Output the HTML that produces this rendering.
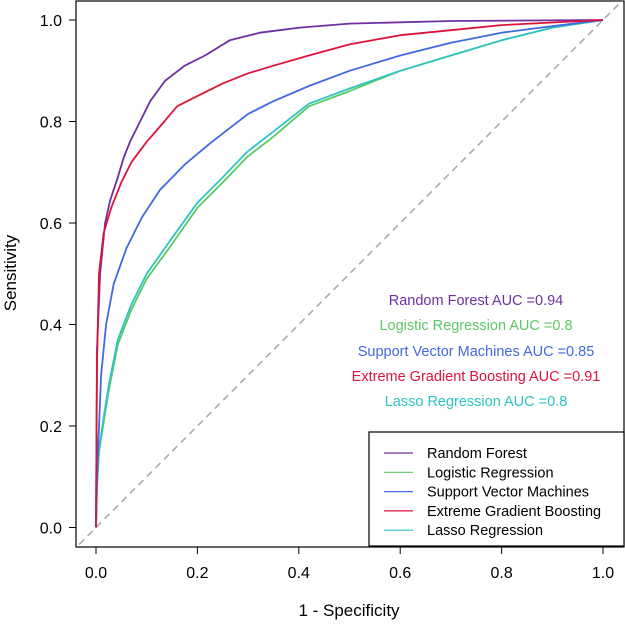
<!DOCTYPE html>
<html><head><meta charset="utf-8"><style>body{margin:0;background:#fff}svg{display:block;font-family:"Liberation Sans",Arial,sans-serif}</style></head>
<body>
<svg id="chart" width="625" height="625">
<defs><clipPath id="clip"><rect x="76" y="1" width="548" height="546"/></clipPath></defs>
<rect x="76" y="1" width="548" height="546" fill="none" stroke="#000" stroke-width="1.2"/>
<g id="axes"></g>
<g id="series" clip-path="url(#clip)"></g>
<g id="labels"></g>
<text x="349" y="616" font-size="17" text-anchor="middle">1 - Specificity</text>
<text x="0" y="0" font-size="17" text-anchor="middle" transform="translate(16,273) rotate(-90)">Sensitivity</text>
<g>
<rect x="369" y="432" width="255" height="114" fill="#fff" stroke="#000" stroke-width="1.2"/>
<g id="legend"></g>
</g>
</svg>
<script>
const seriesNames=["Random Forest","Logistic Regression","Support Vector Machines","Extreme Gradient Boosting","Lasso Regression"];
const seriesColors=["#7030A0","#5DC863","#4169E1","#DC143C","#2EC4C4"];
const aucValues=["0.94","0.8","0.85","0.91","0.8"];
const ticks=[0,0.2,0.4,0.6,0.8,1.0];
const rfFpr=[0,0.002,0.008,0.018,0.028,0.043,0.055,0.067,0.087,0.107,0.136,0.175,0.215,0.264,0.323,0.402,0.5,0.7,1];
const rfTpr=[0,0.35,0.5,0.6,0.645,0.69,0.73,0.76,0.8,0.84,0.88,0.91,0.93,0.96,0.975,0.985,0.993,0.998,1];
const lrFpr=[0,0.002,0.006,0.014,0.025,0.043,0.07,0.1,0.146,0.2,0.25,0.298,0.35,0.42,0.5,0.6,0.7,0.8,0.9,1];
const lrTpr=[0,0.08,0.15,0.2,0.27,0.36,0.43,0.49,0.553,0.63,0.68,0.73,0.77,0.83,0.86,0.9,0.93,0.96,0.985,1];
const svmFpr=[0,0.002,0.01,0.02,0.035,0.06,0.09,0.126,0.175,0.225,0.3,0.35,0.42,0.5,0.6,0.7,0.8,0.9,1];
const svmTpr=[0,0.1,0.3,0.4,0.48,0.55,0.61,0.665,0.715,0.757,0.815,0.84,0.87,0.9,0.93,0.955,0.975,0.988,1];
const xgbFpr=[0,0.002,0.006,0.015,0.03,0.05,0.07,0.1,0.126,0.16,0.2,0.25,0.3,0.35,0.42,0.5,0.6,0.7,0.8,0.9,1];
const xgbTpr=[0,0.33,0.5,0.58,0.63,0.68,0.72,0.76,0.79,0.83,0.85,0.875,0.895,0.91,0.93,0.952,0.97,0.98,0.99,0.995,1];
const lasFpr=[0,0.002,0.006,0.014,0.025,0.043,0.07,0.1,0.146,0.2,0.25,0.298,0.35,0.42,0.5,0.6,0.7,0.8,0.9,1];
const lasTpr=[0,0.08,0.15,0.21,0.28,0.37,0.44,0.5,0.565,0.64,0.69,0.74,0.78,0.835,0.865,0.9,0.93,0.96,0.985,1];
const ns="http://www.w3.org/2000/svg";
const X=v=>96+v*507, Y=v=>527.5-v*507.5;
function mk(t,a,p){const e=document.createElementNS(ns,t);for(const k in a)e.setAttribute(k,a[k]);p.appendChild(e);return e;}
const ax=document.getElementById('axes');
ticks.forEach(t=>{
  let l=mk('line',{x1:X(t),x2:X(t),y1:547,y2:554,stroke:'#000'},ax);
  
  
  let tx=mk('text',{x:X(t),y:578,'font-size':16,'text-anchor':'middle'},ax);tx.textContent=t.toFixed(1);
  
  
  let l2=mk('line',{x1:69,x2:76,y1:Y(t),y2:Y(t),stroke:'#000'},ax);
  
  
  let ty=mk('text',{x:62,y:Y(t)+6,'font-size':16,'text-anchor':'end'},ax);ty.textContent=t.toFixed(1);
  
  
});
const sg=document.getElementById('series');
let d=mk('line',{x1:X(-0.05),y1:Y(-0.05),x2:X(1.05),y2:Y(1.05),stroke:'#aaa','stroke-width':1.6,'stroke-dasharray':'7,5'},sg);


const data=[[rfFpr,rfTpr],[lrFpr,lrTpr],[svmFpr,svmTpr],[xgbFpr,xgbTpr],[lasFpr,lasTpr]];
const order=[1,4,2,0,3];
order.forEach(i=>{
  const [f,t]=data[i];
  const pts=f.map((v,j)=>X(v).toFixed(1)+','+Y(t[j]).toFixed(1)).join(' ');
  let p=mk('polyline',{points:pts,fill:'none',stroke:seriesColors[i],'stroke-width':1.8,'stroke-linejoin':'round'},sg);
  
  
});
const lb=document.getElementById('labels');
const labelY=[305,330,356,381,406];
seriesNames.forEach((n,i)=>{
  let t=mk('text',{x:476,y:labelY[i],'font-size':14.5,'text-anchor':'middle',fill:seriesColors[i]},lb);
  t.textContent=n+' AUC ='+aucValues[i];
  
  
});
const lg=document.getElementById('legend');
seriesNames.forEach((n,i)=>{
  const y=453+i*19.3;
  let l=mk('line',{x1:384,x2:413,y1:y,y2:y,stroke:seriesColors[i],'stroke-width':1.2},lg);
  
  
  let t=mk('text',{x:427,y:y+5,'font-size':14.5},lg);t.textContent=n;
  
  
});
</script>
</body></html>
